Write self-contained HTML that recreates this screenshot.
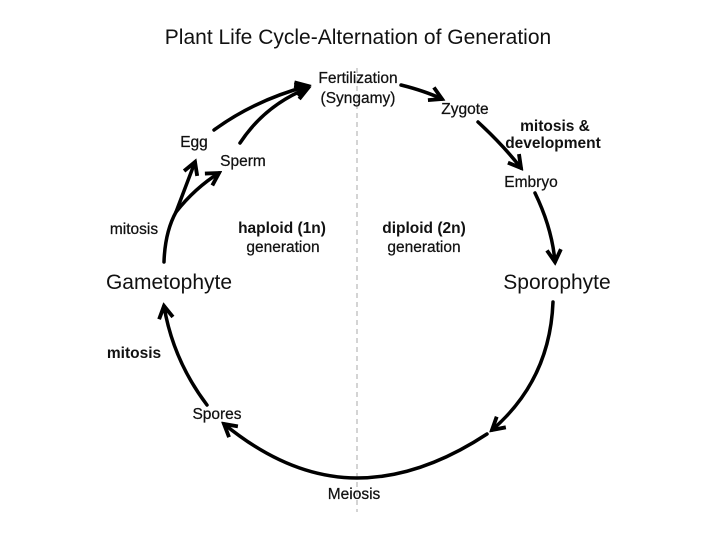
<!DOCTYPE html>
<html><head><meta charset="utf-8"><style>
body{margin:0;background:#fff}
svg{display:block}
text{font-family:"Liberation Sans",sans-serif;fill:#111}
</style></head><body>
<svg width="720" height="540" viewBox="0 0 720 540">
<defs>
<marker id="a" viewBox="0 0 10 10" refX="8" refY="5" markerWidth="5" markerHeight="5" orient="auto" markerUnits="strokeWidth">
<path d="M1,1 L8,5 L1,9" fill="none" stroke="#000" stroke-width="2.2"/>
</marker>
</defs>
<line x1="357" y1="68" x2="357" y2="512" stroke="#aaa" stroke-width="1" stroke-dasharray="5,4"/>
<text x="358" y="44" font-size="21" text-anchor="middle">Plant Life Cycle-Alternation of Generation</text>
<g fill="none" stroke="#000" stroke-width="3.5" stroke-linecap="round">
<path d="M164,262 Q165,232 176,212 L195,162" marker-end="url(#a)"/>
<path d="M176,212 Q195,188 219,173" marker-end="url(#a)"/>
<path d="M214,130 Q255,100 308,86" marker-end="url(#a)"/>
<path d="M240,143 Q265,105 308,88" marker-end="url(#a)"/>
<path d="M401,85 Q425,91 442,99" marker-end="url(#a)"/>
<path d="M478,122 Q503,145 521,168" marker-end="url(#a)"/>
<path d="M535,193 Q552,228 555,262" marker-end="url(#a)"/>
<path d="M553,302 Q550,380 492,430" marker-end="url(#a)"/>
<path d="M487,434 Q420,478 357,478 Q290,478 224,424" marker-end="url(#a)"/>
<path d="M207,405 Q173,360 164,306" marker-end="url(#a)"/>
</g>
<g font-size="15.5" stroke="#111" stroke-width="0.25">
<text x="358" y="83" text-anchor="middle">Fertilization</text>
<text x="358" y="103" text-anchor="middle">(Syngamy)</text>
<text x="465" y="114" text-anchor="middle">Zygote</text>
<text x="555" y="131" text-anchor="middle" font-weight="bold" stroke="none">mitosis &amp;</text>
<text x="553" y="148" text-anchor="middle" font-weight="bold" stroke="none">development</text>
<text x="531" y="187" text-anchor="middle">Embryo</text>
<text x="194" y="147" text-anchor="middle">Egg</text>
<text x="243" y="166" text-anchor="middle">Sperm</text>
<text x="134" y="234" text-anchor="middle">mitosis</text>
<text x="282" y="233" text-anchor="middle" font-weight="bold" stroke="none">haploid (1n)</text>
<text x="283" y="252" text-anchor="middle">generation</text>
<text x="424" y="233" text-anchor="middle" font-weight="bold" stroke="none">diploid (2n)</text>
<text x="424" y="252" text-anchor="middle">generation</text>
<text x="134" y="358" text-anchor="middle" font-weight="bold" stroke="none">mitosis</text>
<text x="217" y="419" text-anchor="middle">Spores</text>
<text x="354" y="499" text-anchor="middle">Meiosis</text>
</g>
<text x="169" y="289" font-size="21" text-anchor="middle">Gametophyte</text>
<text x="557" y="289" font-size="21" text-anchor="middle">Sporophyte</text>
</svg>
</body></html>
